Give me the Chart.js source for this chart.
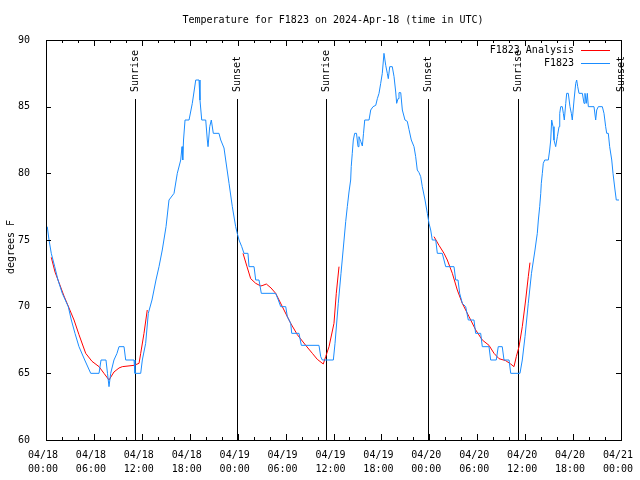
<!DOCTYPE html>
<html>
<head>
<meta charset="utf-8">
<script src="https://cdn.jsdelivr.net/npm/chart.js@4.4.1/dist/chart.umd.min.js"></script>
<style>
  html, body { margin: 0; padding: 0; background: #fff; }
  #wrap { width: 640px; height: 480px; }
</style>
</head>
<body>
<div id="wrap"><canvas id="tempChart" width="640" height="480"></canvas></div>
<script>
// hours since 04/18 00:00 UTC
const obsHours = [0.16,0.38,0.66,1.09,1.50,2.04,2.79,3.17,3.63,4.13,4.85,5.60,6.64,6.89,7.51,7.70,7.89,8.10,8.51,8.89,9.14,9.77,9.98,11.02,11.14,11.86,12.06,12.48,12.81,13.27,13.77,14.15,14.56,15.03,15.40,16.03,16.44,16.87,17.03,17.12,17.22,17.41,17.91,18.32,18.75,19.16,19.28,19.50,20.00,20.20,20.29,20.50,20.70,20.95,21.66,21.88,22.29,22.50,22.92,23.33,23.75,23.95,24.17,24.51,24.79,25.29,25.42,26.05,26.26,26.67,26.96,28.76,29.09,29.39,30.02,30.22,30.64,30.77,31.68,31.97,34.18,34.40,34.60,35.98,36.19,36.60,36.94,37.32,37.53,37.73,37.94,38.15,38.22,38.35,38.48,38.65,38.88,39.07,39.19,39.41,39.61,39.76,39.91,40.45,40.66,40.95,41.29,41.49,41.70,41.91,42.11,42.32,42.54,42.74,42.86,43.04,43.36,43.58,43.79,43.91,44.08,44.20,44.42,44.62,44.95,45.24,45.45,45.74,46.08,46.29,46.49,46.71,46.92,47.12,47.46,47.75,47.96,48.17,48.37,48.80,49.00,49.62,50.05,51.09,51.30,51.59,51.80,52.13,52.55,52.88,53.59,53.80,54.43,54.63,55.47,55.68,56.38,56.63,57.13,57.35,57.98,58.19,59.35,59.64,59.98,60.39,60.79,61.23,61.40,61.52,61.65,61.82,61.95,62.02,62.15,62.27,62.45,62.90,63.07,63.20,63.32,63.49,63.61,63.82,64.03,64.24,64.33,64.45,64.65,64.78,64.90,65.08,65.20,65.40,65.61,65.78,65.90,66.12,66.33,66.45,66.58,66.74,67.16,67.37,67.49,67.66,67.78,67.91,68.62,68.83,68.96,69.16,69.66,69.87,70.08,70.21,70.41,70.58,70.84,71.00,71.25,71.41,71.75];
const obsTemps = [76.0,75.0,74.0,73.0,72.0,71.0,70.0,69.0,68.0,67.0,66.0,65.0,65.0,66.0,66.0,65.0,64.0,65.0,66.0,66.5,67.0,67.0,66.0,66.0,65.0,65.0,66.0,67.25,69.5,70.5,72.0,73.0,74.25,76.0,78.0,78.5,80.0,81.0,82.0,81.0,82.5,84.0,84.0,85.25,87.0,87.0,85.5,84.0,84.0,82.5,82.0,83.5,84.0,83.0,83.0,82.5,81.9,81.0,79.25,77.5,76.0,75.5,75.0,74.5,74.0,74.0,73.0,73.0,72.0,72.0,71.0,71.0,70.5,70.0,70.0,69.25,68.75,68.0,68.0,67.1,67.1,66.25,66.0,66.0,67.25,70.25,72.5,75.0,76.4,77.5,78.6,79.5,80.5,81.5,82.5,83.0,83.0,82.0,82.75,82.4,82.05,83.0,84.0,84.0,84.75,85.0,85.1,85.6,86.0,86.75,87.5,89.0,88.1,87.5,87.1,88.0,88.0,87.25,86.1,85.25,85.6,86.05,86.05,84.75,84.0,83.9,83.3,82.5,82.0,81.25,80.25,80.05,79.75,79.0,78.0,77.0,76.25,75.75,75.0,75.0,74.0,74.0,73.0,73.0,72.0,72.0,71.0,70.25,70.0,69.0,69.0,68.0,68.0,67.0,67.0,66.0,66.0,67.0,67.0,66.0,66.0,65.0,65.0,66.0,67.75,70.25,72.5,74.25,75.0,75.5,76.5,77.5,78.5,79.25,80.0,80.75,81.0,81.0,81.75,82.5,84.0,83.5,82.5,82.0,82.75,83.5,84.5,85.0,85.0,84.5,84.0,85.25,86.0,86.0,85.0,84.5,84.0,85.5,86.75,87.0,86.5,86.0,86.0,85.25,86.0,85.25,86.0,85.0,85.0,84.0,84.75,85.0,85.0,84.5,83.5,83.0,83.0,82.0,81.0,80.0,78.75,78.0,78.0];

// analysis segments, null = gap
const anaHours = [0.66,1.13,1.63,2.25,2.88,3.51,4.13,4.97,5.76,6.64,7.26,7.89,8.51,9.14,9.55,11.02,11.65,11.86,12.27,12.68,null,
  24.67,25.17,25.63,26.26,26.89,27.17,27.59,28.18,28.76,29.18,29.80,30.64,31.47,32.52,33.35,33.97,34.72,35.02,35.44,36.06,36.35,36.69,null,
  48.59,49.21,49.84,50.25,50.88,51.50,52.13,52.97,53.81,54.63,55.47,56.10,56.72,57.56,58.19,58.60,58.89,59.23,59.64,60.06,60.39,60.60];
const anaTemps = [73.7,72.6,71.8,70.8,69.9,69.0,67.9,66.5,65.9,65.5,65.0,64.5,65.1,65.4,65.5,65.6,65.75,66.5,68.0,69.75,null,
  74.0,73.0,72.1,71.75,71.55,71.6,71.7,71.4,71.0,70.5,69.75,68.75,67.9,67.1,66.5,66.05,65.7,66.25,67.0,68.75,71.0,73.0,null,
  75.25,74.6,74.0,73.5,72.5,71.25,70.25,69.25,68.25,67.5,67.1,66.5,66.1,65.95,65.7,65.5,66.25,67.0,68.5,70.5,72.25,73.3];

const sunHours = [11.14, 23.92, 35.06, 47.83, 59.10, 71.95];
const sunLabels = ['Sunrise','Sunset','Sunrise','Sunset','Sunrise','Sunset'];

const yTicks = [60, 65, 70, 75, 80, 85, 90];
const startDay = 18;

const FONT = 'DejaVu Sans Mono, monospace';

function toPoints(xs, ys){
  return xs.map((x, i) => (x === null ? {x: null, y: null} : {x: x, y: ys[i]}));
}

const extras = {
  id: 'extras',
  beforeDatasetsDraw(c){
    const {ctx, chartArea: a} = c;
    const xs = c.scales.x;
    ctx.save();
    ctx.strokeStyle = '#000';
    ctx.lineWidth = 1;
    ctx.fillStyle = '#000';
    ctx.font = '10px ' + FONT;
    sunHours.forEach((h, i)=>{
      const px = Math.round(xs.getPixelForValue(h)) + 0.5;
      ctx.beginPath();
      ctx.moveTo(px, a.top + 59);
      ctx.lineTo(px, a.bottom);
      ctx.stroke();
      ctx.save();
      ctx.translate(px, a.top + 52);
      ctx.rotate(-Math.PI/2);
      ctx.textAlign = 'left';
      ctx.textBaseline = 'middle';
      ctx.fillText(sunLabels[i], 0, 0);
      ctx.restore();
    });
    ctx.restore();
  },
  afterDraw(c){
    const {ctx, chartArea: a} = c;
    const xs = c.scales.x, ys = c.scales.y;
    ctx.save();
    ctx.strokeStyle = '#000';
    ctx.lineWidth = 1;
    // frame
    ctx.strokeRect(a.left + 0.5, a.top + 0.5, a.right - a.left, a.bottom - a.top);
    // inward ticks
    ctx.beginPath();
    for(let h = 0; h <= 72; h += 2){
      const px = Math.round(xs.getPixelForValue(h)) + 0.5;
      const len = h % 6 === 0 ? 6 : 3;
      ctx.moveTo(px, a.bottom); ctx.lineTo(px, a.bottom - len);
      ctx.moveTo(px, a.top); ctx.lineTo(px, a.top + len);
    }
    yTicks.forEach(v=>{
      const py = Math.round(ys.getPixelForValue(v)) + 0.5;
      ctx.moveTo(a.left, py); ctx.lineTo(a.left + 5, py);
      ctx.moveTo(a.right, py); ctx.lineTo(a.right - 5, py);
    });
    ctx.stroke();

    ctx.fillStyle = '#000';
    ctx.font = '10px ' + FONT;
    // title
    ctx.textAlign = 'center';
    ctx.textBaseline = 'middle';
    ctx.fillText('Temperature for F1823 on 2024-Apr-18 (time in UTC)', 333, 20);
    // y axis label
    ctx.save();
    ctx.translate(11, 247);
    ctx.rotate(-Math.PI/2);
    ctx.fillText('degrees F', 0, 0);
    ctx.restore();
    // legend
    const rows = [c.data.datasets[1], c.data.datasets[0]];
    rows.forEach((ds, i)=>{
      const y = 50 + i * 13;
      ctx.textAlign = 'right';
      ctx.fillStyle = '#000';
      ctx.fillText(ds.label, 574, y);
      ctx.strokeStyle = ds.borderColor;
      ctx.beginPath();
      ctx.moveTo(581, y + 0.5);
      ctx.lineTo(610, y + 0.5);
      ctx.stroke();
    });
    ctx.restore();
  }
};

new Chart(document.getElementById('tempChart'), {
  type: 'line',
  data: {
    datasets: [
      { label: 'F1823', data: toPoints(obsHours, obsTemps), borderColor: '#1a8cff', borderWidth: 1, pointRadius: 0, tension: 0 },
      { label: 'F1823 Analysis', data: toPoints(anaHours, anaTemps), borderColor: '#ff0000', borderWidth: 1, pointRadius: 0, tension: 0, spanGaps: false }
    ]
  },
  options: {
    responsive: false,
    animation: false,
    layout: { padding: { top: 40, right: 19, left: 0, bottom: 0 } },
    scales: {
      x: {
        type: 'linear',
        min: 0, max: 72,
        afterFit: s => { s.height = 40; s.paddingLeft = 0; s.paddingRight = 0; },
        grid: { display: false },
        border: { display: false },
        afterBuildTicks: s => { s.ticks = Array.from({length: 13}, (_, i) => ({ value: i * 6 })); },
        ticks: {
          autoSkip: false,
          maxRotation: 0,
          padding: 0,
          labelOffset: -3,
          color: '#000',
          font: { family: FONT, size: 10, lineHeight: 1.4 },
          callback: v => {
            const day = startDay + Math.floor(v / 24);
            const hr = v % 24;
            return ['04/' + day, String(hr).padStart(2, '0') + ':00'];
          }
        }
      },
      y: {
        min: 60, max: 90,
        afterFit: s => { s.width = 46; s.paddingTop = 0; s.paddingBottom = 0; },
        grid: { display: false },
        border: { display: false },
        afterBuildTicks: s => { s.ticks = yTicks.map(v => ({ value: v })); },
        ticks: { padding: 8, color: '#000', font: { family: FONT, size: 10 } }
      }
    },
    plugins: {
      legend: { display: false },
      tooltip: { enabled: false }
    }
  },
  plugins: [extras]
});
</script>
</body>
</html>
